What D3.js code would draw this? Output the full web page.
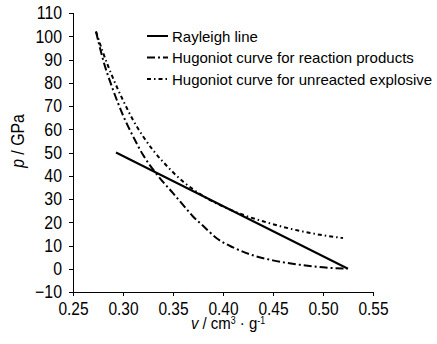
<!DOCTYPE html>
<meta charset="utf-8">
<style>
body { margin: 0; background: #fff; }
svg text { font-family: "Liberation Sans", Arial, sans-serif; fill: #000; }
.axis path, .axis line { stroke: #000; stroke-width: 1px; shape-rendering: crispEdges; }
</style>
<script src="https://d3js.org/d3.v7.min.js"></script>
<div id="chart"></div>
<script>

// x ticks / y ticks
var xTicks = [0.25, 0.30, 0.35, 0.40, 0.45, 0.50, 0.55];
var yTicks = [-10, 0, 10, 20, 30, 40, 50, 60, 70, 80, 90, 100, 110];

// Rayleigh line
var vRayleigh = [0.293, 0.525];
var pRayleigh = [50, 0];

// Hugoniot curve for reaction products
var vProducts = [0.273, 0.28, 0.29, 0.30, 0.31, 0.32, 0.334, 0.35, 0.36, 0.37, 0.38, 0.394, 0.41, 0.427, 0.45, 0.477, 0.50, 0.524];
var pProducts = [102, 90, 77, 66, 57, 49, 40.5, 32.5, 27.5, 22.5, 18.5, 13, 9.2, 6.2, 3.6, 1.7, 0.6, 0];

// Hugoniot curve for unreacted explosive
var vUnreacted = [0.273, 0.28, 0.29, 0.30, 0.31, 0.32, 0.33, 0.34, 0.35, 0.36, 0.37, 0.38, 0.40, 0.42, 0.44, 0.46, 0.48, 0.50, 0.52];
var pUnreacted = [102, 93, 82, 72.5, 64, 57, 51, 46, 41.5, 37.5, 34.2, 31.3, 26.8, 23.2, 20.4, 18, 16, 14.4, 13.2];

var series = [
  {name: "Rayleigh line", v: vRayleigh, p: pRayleigh, dash: null},
  {name: "Hugoniot curve for reaction products", v: vProducts, p: pProducts, dash: "8,3,2,3"},
  {name: "Hugoniot curve for unreacted explosive", v: vUnreacted, p: pUnreacted, dash: "4,3,1.5,3"}
];

var W = 437, H = 344;
var svg = d3.select("#chart").append("svg")
  .attr("width", W)
  .attr("height", H);

var x = d3.scaleLinear().domain([0.25, 0.55]).range([73, 373]);
var y = d3.scaleLinear().domain([-10, 110]).range([292, 13]);

// squeeze text horizontally (the original uses a narrow face)
function squeeze(sel, k) {
  sel.each(function() {
    var w = this.getComputedTextLength();
    this.setAttribute("textLength", w * k);
    this.setAttribute("lengthAdjust", "spacingAndGlyphs");
  });
}

var gx = svg.append("g")
  .attr("class", "axis")
  .attr("transform", "translate(0," + y(-10) + ")")
  .call(d3.axisBottom(x).tickValues(xTicks).tickFormat(d3.format(".2f"))
    .tickSizeInner(4).tickSizeOuter(0).tickPadding(6));
gx.selectAll("text").style("font-size", "18px");
squeeze(gx.selectAll("text"), 0.86);

var gy = svg.append("g")
  .attr("class", "axis")
  .attr("transform", "translate(" + x(0.25) + ",0)")
  .call(d3.axisLeft(y).tickValues(yTicks).tickFormat(d3.format("d"))
    .tickSizeInner(4).tickSizeOuter(0).tickPadding(7));
gy.selectAll("text").style("font-size", "18px");
squeeze(gy.selectAll("text"), 0.88);
gy.selectAll("path").attr("d", "M0," + y(110) + "V" + y(-10));
gx.selectAll("path").attr("d", "M" + x(0.25) + ",0H" + x(0.55));

// axis titles
var xl = svg.append("text")
  .attr("x", 228)
  .attr("y", 329)
  .attr("text-anchor", "middle")
  .style("font-size", "17px");
xl.append("tspan").style("font-style", "italic").text("v");
xl.append("tspan").text(" / cm");
xl.append("tspan").attr("dy", -5).style("font-size", "10px").text("3");
xl.append("tspan").attr("dy", 5).text(" \u00b7 g");
xl.append("tspan").attr("dy", -5).style("font-size", "10px").text("-1");
squeeze(xl, 0.88);

var yl = svg.append("text")
  .attr("transform", "translate(24,141) rotate(-90)")
  .attr("text-anchor", "middle")
  .style("font-size", "18px");
yl.append("tspan").style("font-style", "italic").text("p");
yl.append("tspan").text(" / GPa");
squeeze(yl, 0.88);

// curves
var line = d3.line()
  .x(function(d) { return x(d[0]); })
  .y(function(d) { return y(d[1]); })
  .curve(d3.curveMonotoneX);

series.forEach(function(s) {
  var pts = s.v.map(function(v, i) { return [v, s.p[i]]; });
  svg.append("path")
    .attr("d", line(pts))
    .attr("fill", "none")
    .attr("stroke", "#000")
    .attr("stroke-width", 2)
    .attr("stroke-dasharray", s.dash);
});

// legend
var lg = svg.append("g");
series.forEach(function(s, i) {
  var yy = 36 + i * 21.5;
  lg.append("line")
    .attr("x1", 147).attr("x2", 168)
    .attr("y1", yy).attr("y2", yy)
    .attr("stroke", "#000")
    .attr("stroke-width", 2)
    .attr("stroke-dasharray", s.dash);
  lg.append("text")
    .attr("x", 172)
    .attr("y", yy + 5.5)
    .style("font-size", "15px")
    .text(s.name);
});

</script>
